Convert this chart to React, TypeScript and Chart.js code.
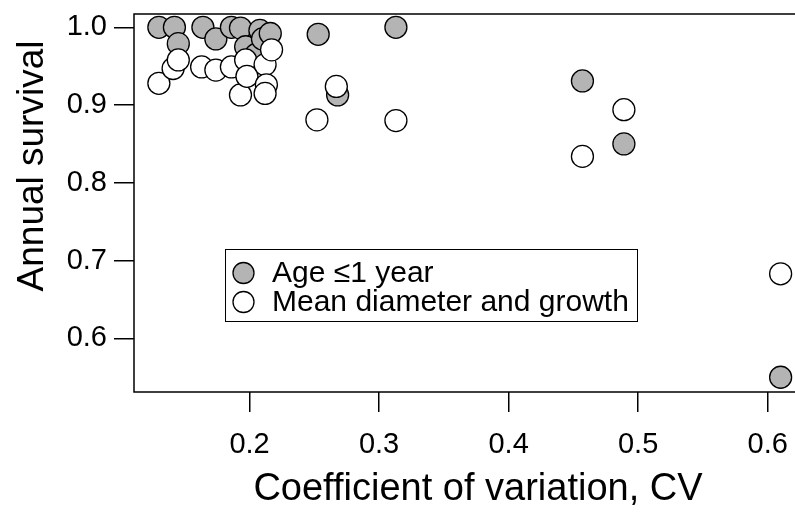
import { useEffect, useRef } from "react";
import { Chart, registerables } from "chart.js";

Chart.register(...registerables);

// ---- data ----
const seriesLabels = ["Age \u22641 year", "Mean diameter and growth"];

const ageCV = [0.130, 0.142, 0.145, 0.164, 0.174, 0.186, 0.193, 0.197, 0.205, 0.208, 0.210, 0.216, 0.253, 0.268, 0.313, 0.457, 0.489, 0.610];
const ageSurvival = [1.000, 1.000, 0.979, 1.000, 0.985, 1.000, 0.999, 0.975, 0.965, 0.996, 0.985, 0.992, 0.991, 0.913, 1.000, 0.931, 0.850, 0.550];

const meanCV = [0.130, 0.141, 0.145, 0.163, 0.174, 0.186, 0.193, 0.197, 0.198, 0.212, 0.217, 0.213, 0.212, 0.252, 0.267, 0.313, 0.457, 0.489, 0.610];
const meanSurvival = [0.928, 0.947, 0.958, 0.949, 0.945, 0.949, 0.913, 0.958, 0.937, 0.952, 0.971, 0.926, 0.915, 0.881, 0.924, 0.880, 0.834, 0.894, 0.683];

const xTickValues = [0.2, 0.3, 0.4, 0.5, 0.6];
const yTickValues = [0.6, 0.7, 0.8, 0.9, 1.0];

const xTitle = "Coefficient of variation, CV";
const yTitle = "Annual survival";

const FONT = "'Liberation Sans', Arial, Helvetica, sans-serif";
const GREY = "#b4b4b4";

const frameLegendTitles = {
  id: "frameLegendTitles",
  afterDatasetsDraw(chart: any) {
    const { ctx, chartArea } = chart;
    const { left, right, top, bottom } = chartArea;
    ctx.save();
    ctx.strokeStyle = "#000";
    ctx.lineWidth = 1.5;
    ctx.beginPath();
    ctx.moveTo(right + 5, top);
    ctx.lineTo(left, top);
    ctx.lineTo(left, bottom);
    ctx.lineTo(right + 5, bottom);
    ctx.stroke();

    // axis titles
    ctx.fillStyle = "#000";
    ctx.font = `38px ${FONT}`;
    ctx.textAlign = "center";
    ctx.textBaseline = "middle";
    ctx.fillText(xTitle, 478, 490);
    ctx.save();
    ctx.font = `37px ${FONT}`;
    ctx.translate(33, 166);
    ctx.rotate(-Math.PI / 2);
    ctx.fillText(yTitle, 0, 0);
    ctx.restore();

    // legend box
    const lx = 225, ly = 249, lw = 412, lh = 72;
    ctx.fillStyle = "#fff";
    ctx.fillRect(lx, ly, lw, lh);
    ctx.lineWidth = 1;
    ctx.strokeRect(lx + 0.5, ly + 0.5, lw, lh);
    const fills = [GREY, "#fff"];
    ctx.font = `30px ${FONT}`;
    ctx.textBaseline = "middle";
    ctx.textAlign = "left";
    seriesLabels.forEach((lab, i) => {
      const cy = ly + 24 + i * 29;
      ctx.beginPath();
      ctx.arc(lx + 18.5, cy, 10.5, 0, Math.PI * 2);
      ctx.fillStyle = fills[i];
      ctx.fill();
      ctx.lineWidth = 1.3;
      ctx.strokeStyle = "#000";
      ctx.stroke();
      ctx.fillStyle = "#000";
      ctx.fillText(lab, lx + 47, cy + 1);
    });
    ctx.restore();
  },
};

export default function App() {
  const ref = useRef<HTMLCanvasElement | null>(null);

  useEffect(() => {
    if (!ref.current) return;
    const chart = new Chart(ref.current, {
      type: "scatter",
      data: {
        datasets: [
          {
            label: seriesLabels[0],
            data: ageCV.map((x, i) => ({ x, y: ageSurvival[i] })),
            backgroundColor: GREY,
            borderColor: "#000",
            borderWidth: 1.3,
            pointRadius: 11,
            order: 2,
          },
          {
            label: seriesLabels[1],
            data: meanCV.map((x, i) => ({ x, y: meanSurvival[i] })),
            backgroundColor: "#fff",
            borderColor: "#000",
            borderWidth: 1.3,
            pointRadius: 11,
            order: 1,
          },
        ],
      },
      options: {
        animation: false,
        responsive: false,
        devicePixelRatio: 1,
        layout: { autoPadding: false, padding: { top: 14, left: 0, right: 0, bottom: 0 } },
        plugins: { legend: { display: false }, tooltip: { enabled: false } },
        scales: {
          x: {
            type: "linear",
            min: 0.1108,
            max: 0.6211,
            afterFit: (s: any) => { s.height = 122; s.paddingLeft = 0; s.paddingRight = 0; },
            afterBuildTicks: (s: any) => { s.ticks = xTickValues.map((v) => ({ value: v })); },
            border: { display: false },
            grid: { drawOnChartArea: false, drawTicks: true, tickLength: 20, color: "#000", lineWidth: 1.5 },
            ticks: {
              color: "#000",
              font: { family: FONT, size: 29 },
              padding: 16,
              maxRotation: 0,
              callback: (v: any) => Number(v).toFixed(1),
            },
          },
          y: {
            type: "linear",
            min: 0.531,
            max: 1.0171,
            afterFit: (s: any) => { s.width = 134; s.paddingTop = 0; s.paddingBottom = 0; },
            afterBuildTicks: (s: any) => { s.ticks = yTickValues.map((v) => ({ value: v })); },
            border: { display: false },
            grid: { drawOnChartArea: false, drawTicks: true, tickLength: 20, color: "#000", lineWidth: 1.5 },
            ticks: {
              color: "#000",
              font: { family: FONT, size: 29 },
              padding: 7,
              callback: (v: any) => Number(v).toFixed(1),
            },
          },
        },
      },
      plugins: [frameLegendTitles],
    });
    return () => chart.destroy();
  }, []);

  return (
    <div style={{ position: "fixed", left: 0, top: 0, width: 795, height: 514, background: "#fff" }}>
      <canvas ref={ref} width={795} height={514} style={{ display: "block" }} />
    </div>
  );
}
